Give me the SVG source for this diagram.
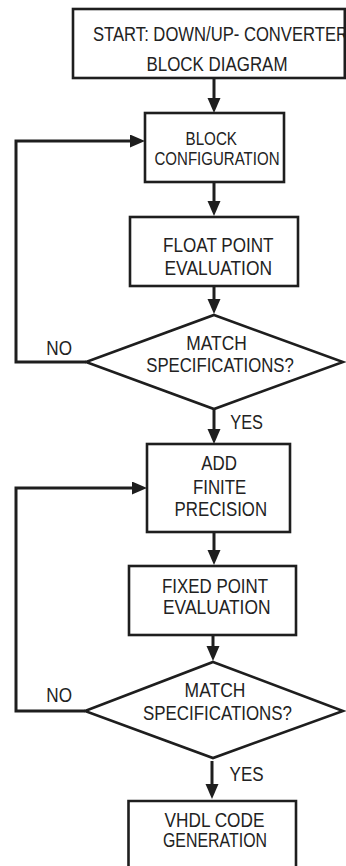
<svg xmlns="http://www.w3.org/2000/svg" width="346" height="866" viewBox="0 0 346 866">
<style>
.box{fill:#fff;stroke:#1e1e1e;stroke-width:2.6}
.ln{fill:none;stroke:#1e1e1e;stroke-width:3}
.t{font-family:"Liberation Sans",Arial,sans-serif;font-size:20px;fill:#222}
.s{font-size:18px}
</style>
<defs>
<marker id="ah" markerUnits="userSpaceOnUse" markerWidth="16" markerHeight="14" refX="3" refY="6.5" orient="auto">
<path d="M0,0 L15,6.5 L0,13 z" fill="#1e1e1e"/>
</marker>
</defs>
<rect width="346" height="866" fill="#fff"/>
<g id="connectors">
<line class="ln" x1="214" y1="78" x2="214" y2="101" marker-end="url(#ah)"/>
<line class="ln" x1="214" y1="182" x2="214" y2="204" marker-end="url(#ah)"/>
<line class="ln" x1="214" y1="286" x2="214" y2="302" marker-end="url(#ah)"/>
<polyline class="ln" points="86,362 16,362 16,141 133,141" marker-end="url(#ah)"/>
<line class="ln" x1="214" y1="409" x2="214" y2="432" marker-end="url(#ah)"/>
<line class="ln" x1="214" y1="532" x2="214" y2="553" marker-end="url(#ah)"/>
<line class="ln" x1="213" y1="635" x2="213" y2="649" marker-end="url(#ah)"/>
<polyline class="ln" points="85,711 16,711 16,488 135,488" marker-end="url(#ah)"/>
<line class="ln" x1="212" y1="761" x2="212" y2="787" marker-end="url(#ah)"/>
</g>
<g id="start">
<rect class="box" x="73" y="9" width="272" height="69"/>
<text class="t" x="93" y="41" textLength="255" lengthAdjust="spacingAndGlyphs">START: DOWN/UP- CONVERTER</text>
<text class="t" x="146.5" y="71" textLength="141" lengthAdjust="spacingAndGlyphs">BLOCK DIAGRAM</text>
<line x1="345" y1="9" x2="345" y2="78" stroke="#1e1e1e" stroke-width="2.6"/>
</g>
<g id="blockconfig">
<rect class="box" x="145" y="113" width="139" height="69"/>
<text class="t s" x="185.5" y="145" textLength="51.5" lengthAdjust="spacingAndGlyphs">BLOCK</text>
<text class="t s" x="154.5" y="165" textLength="125" lengthAdjust="spacingAndGlyphs">CONFIGURATION</text>
</g>
<g id="floatpoint">
<rect class="box" x="130" y="217" width="168" height="69"/>
<text class="t" x="163" y="251.7" textLength="110.5" lengthAdjust="spacingAndGlyphs">FLOAT POINT</text>
<text class="t" x="164.5" y="275" textLength="107.5" lengthAdjust="spacingAndGlyphs">EVALUATION</text>
</g>
<g id="match1">
<polygon class="box" points="214,315 343,362 214,409 86,362"/>
<text class="t" x="186.3" y="350" textLength="60.5" lengthAdjust="spacingAndGlyphs">MATCH</text>
<text class="t" x="146.3" y="372" textLength="147.5" lengthAdjust="spacingAndGlyphs">SPECIFICATIONS?</text>
<text class="t" x="46.3" y="355" textLength="25.7" lengthAdjust="spacingAndGlyphs">NO</text>
<text class="t" x="230.3" y="428.5" textLength="32.7" lengthAdjust="spacingAndGlyphs">YES</text>
</g>
<g id="finite">
<rect class="box" x="147" y="444" width="143" height="88"/>
<text class="t" x="201.3" y="470" textLength="35.7" lengthAdjust="spacingAndGlyphs">ADD</text>
<text class="t" x="193" y="494" textLength="53.3" lengthAdjust="spacingAndGlyphs">FINITE</text>
<text class="t" x="174.6" y="515.7" textLength="92.5" lengthAdjust="spacingAndGlyphs">PRECISION</text>
</g>
<g id="fixedpoint">
<rect class="box" x="129" y="566" width="167" height="69"/>
<text class="t" x="162" y="593" textLength="106" lengthAdjust="spacingAndGlyphs">FIXED POINT</text>
<text class="t" x="163" y="614" textLength="107.5" lengthAdjust="spacingAndGlyphs">EVALUATION</text>
</g>
<g id="match2">
<polygon class="box" points="213,662 343,711 213,758 85,711"/>
<text class="t" x="184.6" y="696.7" textLength="60.8" lengthAdjust="spacingAndGlyphs">MATCH</text>
<text class="t" x="143" y="720" textLength="149" lengthAdjust="spacingAndGlyphs">SPECIFICATIONS?</text>
<text class="t" x="46.3" y="701.7" textLength="25.7" lengthAdjust="spacingAndGlyphs">NO</text>
<text class="t" x="229.6" y="780.7" textLength="34" lengthAdjust="spacingAndGlyphs">YES</text>
</g>
<g id="vhdl">
<path class="box" d="M128.5,870 V801 H296 V870"/>
<text class="t" x="164.6" y="826.7" textLength="99.8" lengthAdjust="spacingAndGlyphs">VHDL CODE</text>
<text class="t" x="163" y="846.7" textLength="104" lengthAdjust="spacingAndGlyphs">GENERATION</text>
</g>
</svg>
